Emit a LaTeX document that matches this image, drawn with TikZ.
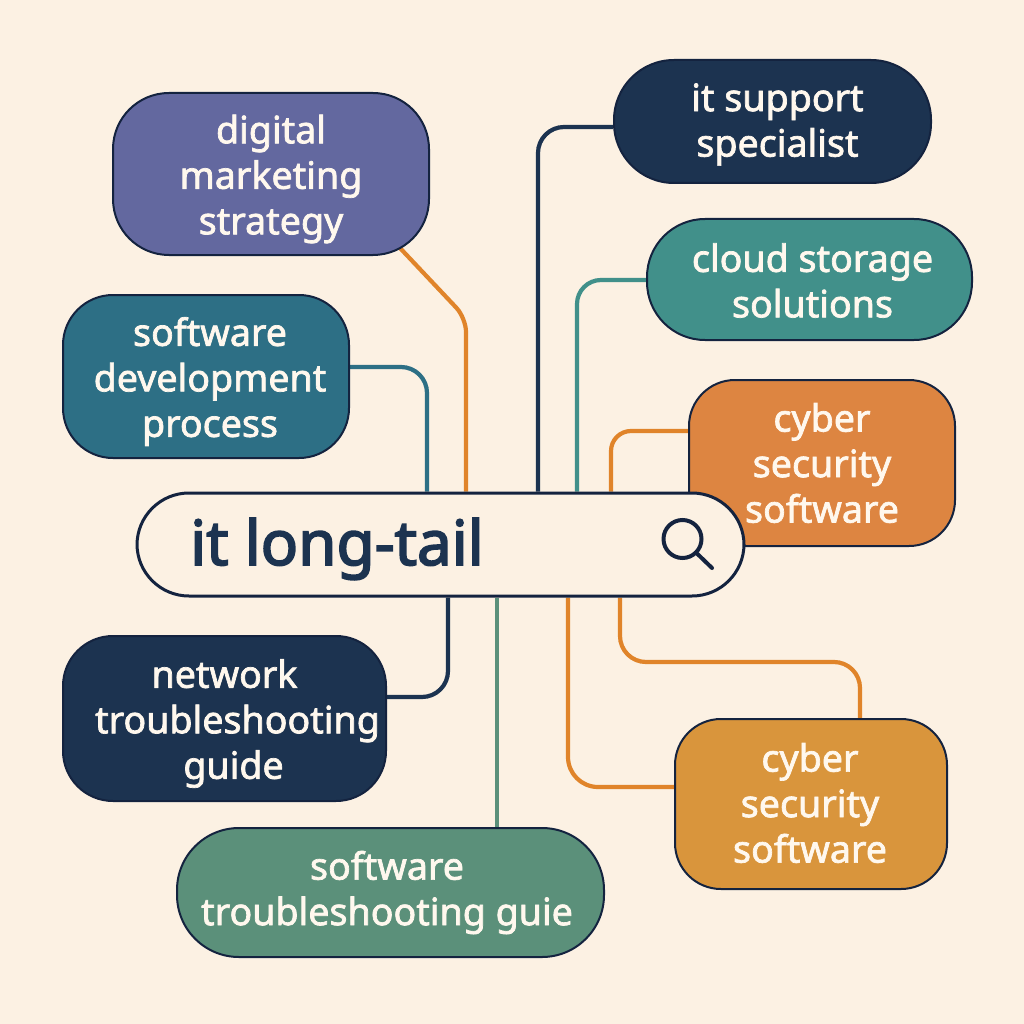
\documentclass[tikz,border=0pt]{standalone}
\usepackage{fontspec}
\setmainfont{Noto Sans}
\newfontfamily\lblfont[FakeBold=1.9]{Noto Sans}
\newfontfamily\hubfont[FakeBold=2.8]{Noto Sans}
\usetikzlibrary{backgrounds}
\definecolor{bgc}{HTML}{FCF1E3}
\definecolor{txtc}{HTML}{FFF8EE}
\definecolor{navy}{HTML}{1C3350}
\definecolor{edge}{HTML}{14233F}
\definecolor{purp}{HTML}{63689F}
\definecolor{tealb}{HTML}{2D6F85}
\definecolor{teal}{HTML}{41908A}
\definecolor{orng}{HTML}{DD8541}
\definecolor{gold}{HTML}{D9953C}
\definecolor{grn}{HTML}{5B907A}
\definecolor{lineo}{HTML}{E0842A}
\tikzset{
  box/.style={draw=edge,line width=2pt,inner sep=0pt},
  lbl/.style={text=txtc,align=center,inner sep=0pt,font=\lblfont\fontsize{37.6}{45.5}\selectfont},
  wire/.style={line width=4.2pt,line cap=butt},
}
\newcommand{\boxat}[9]{% name, x0,y0,x1,y1, r, colour, text, offset
  \node[box,fill=#7,rounded corners=#6pt,minimum width=#4pt-#2pt,minimum height=#5pt-#3pt] (#1) at ({(#2+#4)/2},{(#3+#5)/2}) {};
  \node[lbl] (#1t) at ([shift={(#9)}]#1.center) {#8};}
\begin{document}
\begin{tikzpicture}[x=1pt,y=-1pt]
\useasboundingbox (0,0) rectangle (1024,1024);
\boxat{dm}{113}{93}{429}{255}{56}{purp}{digital\\marketing\\strategy}{0,5}
\boxat{sd}{63}{295}{349}{458}{50}{tealb}{software\\development\\process}{4,5}
\boxat{net}{63}{636}{386}{801}{50}{navy}{\hspace*{-4pt}network\\\hspace*{22pt}troubleshooting\\\hspace*{14pt}guide}{2,5}
\boxat{st}{177}{828}{604}{957}{62}{grn}{software\\troubleshooting guie}{-3.5,0}
\boxat{its}{614}{60}{931}{183}{60}{navy}{it support\\specialist}{5,3}
\boxat{cl}{647}{219}{972}{340}{58}{teal}{cloud storage\\solutions}{3,1}
\boxat{cyb}{689}{380}{955}{546}{46}{orng}{cyber\\security\\software}{0,0}
\boxat{cybb}{675}{719}{947}{889}{46}{gold}{cyber\\security\\software}{-1,-1}
\node[draw=edge,line width=3pt,fill=bgc,rounded corners=52pt,minimum width=607pt,minimum height=103pt,inner sep=0pt] (hub) at (440.5,544.5) {};
\node[anchor=base west,text=navy,inner sep=0pt,font=\hubfont\fontsize{62}{62}\selectfont] (hubt) at (190,565) {it long-tail};
\node[draw=edge,line width=4pt,circle,minimum size=38pt,inner sep=0pt] (lens) at (682.5,539) {};
\coordinate (lensend) at (712,568);
\draw[edge,line width=4pt,line cap=round] (lens.-45) -- (lensend);
\begin{scope}[on background layer]
\fill[bgc] (0,0) rectangle (1024,1024);
\draw[wire,lineo,rounded corners=14pt] (400,248) -- (466,318) -- (hub.north -| 466,0);
\draw[wire,tealb,rounded corners=26pt] (sd.east |- 0,367) -- (427,367) -- (hub.north -| 427,0);
\draw[wire,navy,rounded corners=26pt] (its.west |- 0,127) -- (538,127) -- (hub.north -| 538,0);
\draw[wire,teal,rounded corners=24pt] (cl.west |- 0,280) -- (577,280) -- (hub.north -| 577,0);
\draw[wire,lineo,rounded corners=20pt] (cyb.west |- 0,431) -- (611,431) -- (hub.north -| 611,0);
\draw[wire,navy,rounded corners=26pt] (hub.south -| 448,0) -- (448,697) -- (net.east |- 0,697);
\draw[wire,grn] (hub.south -| 497,0) -- (st.north -| 497,0);
\draw[wire,lineo,rounded corners=30pt] (hub.south -| 568,0) -- (568,787) -- (cybb.west |- 0,787);
\draw[wire,lineo,rounded corners=26pt] (hub.south -| 620,0) -- (620,662) -- (860,662) -- (cybb.north -| 860,0);
\end{scope}
\end{tikzpicture}
\end{document}
